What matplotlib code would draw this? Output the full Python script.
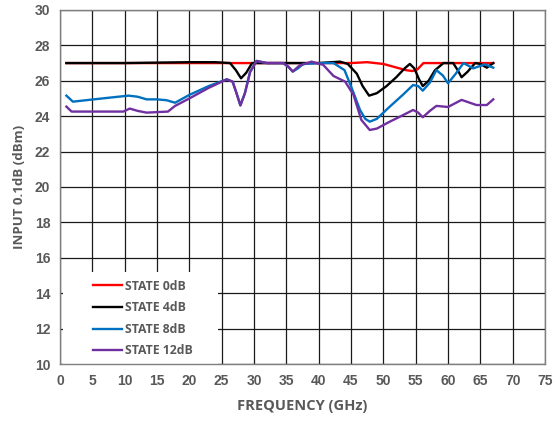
import numpy as np
import matplotlib.pyplot as plt
from matplotlib.patches import Rectangle

# ------------------------------------------------------------
# Data (frequency in GHz, input in dBm)
# ------------------------------------------------------------
freq_0dB = [1, 5, 10, 20, 30, 40, 45, 47.5, 50, 52, 53.5, 54.5, 55.3, 56.2, 60, 65, 67]
p_0dB = [27.0, 27.0, 27.0, 27.0, 27.0, 27.0, 27.0, 27.05, 26.95, 26.75, 26.6, 26.55, 26.65, 27.0, 27.0, 27.0, 27.0]

freq_4dB = [1, 10, 20, 24, 26.3, 27.2, 28, 28.8, 29.7, 31, 35, 40, 43.3, 44.5, 45.9, 46.8, 47.8, 49, 50.5, 52, 53.3, 54.1,
            54.8, 55.5, 56.1, 57, 58, 59.3, 60.8, 61.5, 62.1, 63, 64.2, 65, 66, 67]
p_4dB = [27.0, 27.0, 27.05, 27.05, 27.0, 26.6, 26.14, 26.45, 27.0, 27.0, 27.0, 27.0, 27.08, 26.95, 26.4, 25.7, 25.16, 25.3,
         25.7, 26.2, 26.7, 26.95, 26.7, 26.1, 25.7, 26.0, 26.6, 27.0, 27.0, 26.6, 26.2, 26.5, 27.0, 26.95, 26.74, 27.0]

freq_8dB = [1, 2, 4, 7, 10.6, 12, 13.4, 15, 16.5, 17.8, 20, 23, 25.8, 26.7, 27.3, 27.9, 28.6, 29.4, 30.4, 32, 34.5,
            35.3, 36.0, 36.8, 37.6, 40, 42.3, 44, 45.1, 46.4, 47.2, 47.9, 49, 51, 53, 54.6, 55.4, 56.1, 57.2, 58.2,
            59.2, 60.0, 61.2, 62.4, 63.9, 65.7, 67]
p_8dB = [25.16, 24.82, 24.9, 25.02, 25.16, 25.1, 24.95, 24.95, 24.9, 24.76, 25.2, 25.7, 26.08, 25.95, 25.3, 24.61, 25.3,
         26.5, 27.12, 27.0, 27.0, 26.8, 26.52, 26.7, 26.95, 27.0, 27.0, 26.6, 25.6, 24.35, 23.85, 23.69, 23.85, 24.54,
         25.2, 25.76, 25.7, 25.44, 25.9, 26.6, 26.3, 25.86, 26.4, 27.0, 26.7, 26.93, 26.74]

freq_12dB = [1, 1.8, 5, 9.8, 10.8, 12, 13.4, 16.7, 17.8, 20, 23, 25.8, 26.7, 27.3, 27.9, 28.6, 29.4, 30.4, 32, 34.5,
             35.3, 36.0, 37, 38.9, 40.7, 42.3, 44.1, 45.4, 46.6, 47.9, 49, 51, 53, 54.6, 55.4, 56.1, 57.2, 58.2,
             60.0, 62.1, 64.4, 66.0, 67]
p_12dB = [24.54, 24.26, 24.26, 24.26, 24.43, 24.3, 24.2, 24.26, 24.58, 25.0, 25.6, 26.08, 25.95, 25.3, 24.61, 25.3,
          26.5, 27.12, 27.0, 27.0, 26.8, 26.52, 26.85, 27.08, 26.9, 26.27, 25.95, 25.2, 23.79, 23.22, 23.3, 23.69,
          24.05, 24.35, 24.2, 23.94, 24.3, 24.58, 24.52, 24.92, 24.63, 24.63, 24.95]

series = [
    ('STATE 0dB', freq_0dB, p_0dB, '#FF0000'),
    ('STATE 4dB', freq_4dB, p_4dB, '#000000'),
    ('STATE 8dB', freq_8dB, p_8dB, '#0070C0'),
    ('STATE 12dB', freq_12dB, p_12dB, '#7030A0'),
]

GRAY = '#595959'
LABEL_FONT = 'Open Sans'

fig = plt.figure(figsize=(5.55, 4.22), dpi=100)
ax = fig.add_axes([0.108, 0.1374, 0.874, 0.839])

for label, f, p, c in series:
    ax.plot(f, p, color=c, linewidth=1.7, label=label, solid_joinstyle='round')

ax.set_xlim(0, 75)
ax.set_ylim(10, 30)
ax.set_xticks(np.arange(0, 80, 5))
ax.set_yticks(np.arange(10, 32, 2))
ax.grid(True, color='#1a1a1a', linewidth=0.9)
ax.set_axisbelow(True)
ax.tick_params(length=0, pad=7, colors=GRAY)
for t in ax.get_xticklabels() + ax.get_yticklabels():
    t.set_fontweight('bold')
    t.set_fontsize(10)
    t.set_fontfamily('Liberation Sans')
for s in ax.spines.values():
    s.set_color('#7f7f7f')
    s.set_linewidth(1.0)

ax.set_xlabel('FREQUENCY (GHz)', fontsize=10.5, fontweight='bold', color=GRAY, family=LABEL_FONT, labelpad=8)
ax.set_ylabel('INPUT 0.1dB (dBm)', fontsize=9.5, fontweight='bold', color=GRAY, family=LABEL_FONT, labelpad=6)

# white panel behind the legend, hiding the grid like in the original
ax.add_patch(Rectangle((0.006, 0.0), 0.32, 0.26, transform=ax.transAxes, facecolor='white',
                       edgecolor='none', zorder=1.5))

leg = ax.legend(loc='lower left', bbox_to_anchor=(0.058, 0.005), frameon=False, borderaxespad=0,
                handlelength=2.4, handletextpad=0.2, labelspacing=0.7, borderpad=0.4,
                prop={'family': LABEL_FONT, 'weight': 'bold', 'size': 8.8})
for txt in leg.get_texts():
    txt.set_color(GRAY)

fig.savefig('out.png', dpi=100)
